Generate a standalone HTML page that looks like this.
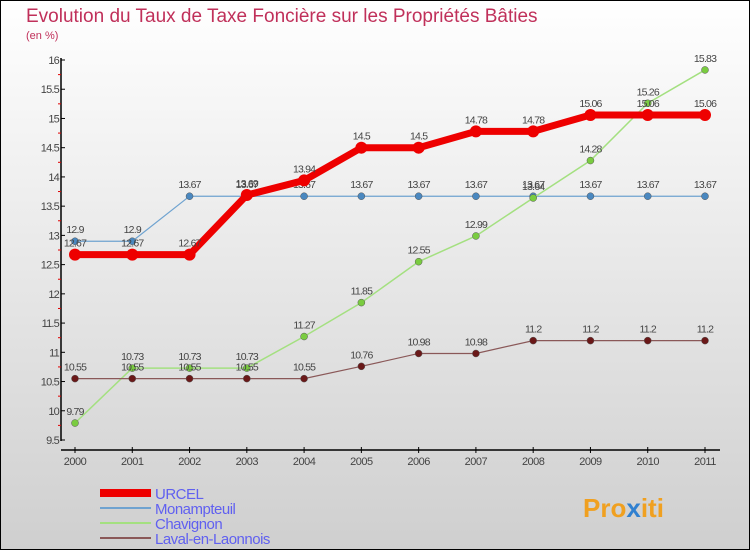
<!DOCTYPE html>
<html><head><meta charset="utf-8"><style>
body{margin:0;}
#c{width:750px;height:550px;position:relative;font-family:"Liberation Sans",sans-serif;}
</style></head><body>
<div id="c">
<svg id="s" width="750" height="550" xmlns="http://www.w3.org/2000/svg">
<defs><linearGradient id="bg" x1="0" y1="0" x2="0" y2="1"><stop offset="0" stop-color="#ffffff"/><stop offset="1" stop-color="#cfcfcf"/></linearGradient></defs>
<rect x="0.5" y="0.5" width="749" height="549" fill="url(#bg)" stroke="#000"/>
<text x="26" y="22" font-size="19" fill="#c0305a">Evolution du Taux de Taxe Foncière sur les Propriétés Bâties</text>
<text x="26" y="39" font-size="11" fill="#c0305a">(en %)</text>
<g id="axes"></g><g id="series"></g><g id="legend"></g>
<text x="583" y="517" font-size="26" font-weight="bold" fill="#f0a020">Pro<tspan fill="#3080d0">x</tspan>iti</text>
</svg></div>
<script>
const years=[2000,2001,2002,2003,2004,2005,2006,2007,2008,2009,2010,2011];
const yTicks=[9.5,10,10.5,11,11.5,12,12.5,13,13.5,14,14.5,15,15.5,16];
const urcel=[12.67,12.67,12.67,13.69,13.94,14.5,14.5,14.78,14.78,15.06,15.06,15.06];
const monampteuil=[12.9,12.9,13.67,13.67,13.67,13.67,13.67,13.67,13.67,13.67,13.67,13.67];
const chavignon=[9.79,10.73,10.73,10.73,11.27,11.85,12.55,12.99,13.64,14.28,15.26,15.83];
const laval=[10.55,10.55,10.55,10.55,10.55,10.76,10.98,10.98,11.2,11.2,11.2,11.2];
const seriesNames=["URCEL","Monampteuil","Chavignon","Laval-en-Laonnois"];
const NS="http://www.w3.org/2000/svg";
const X=i=>75+i*(705-75)/11;
const Y=v=>440-(v-9.5)*(380/6.5);
function mk(t,a,p,txt){const e=document.createElementNS(NS,t);for(const k in a)e.setAttribute(k,a[k]);if(txt!==undefined)e.textContent=txt;p.appendChild(e);return e;}
const ax=document.getElementById('axes');
let e=mk('line',{x1:61,y1:58,x2:61,y2:441,stroke:'#000','stroke-width':1.5},ax);


e=mk('line',{x1:61,y1:450,x2:720,y2:450,stroke:'#000','stroke-width':1.5},ax);


yTicks.forEach((v,i)=>{
  mk('line',{x1:61,y1:Y(v),x2:65,y2:Y(v),stroke:'#000'},ax);
  if(i<yTicks.length-1)mk('line',{x1:58,y1:Y(v+0.25),x2:61,y2:Y(v+0.25),stroke:'#e00000'},ax);
  const t=mk('text',{x:59,y:Y(v)+4,'text-anchor':'end','font-size':11,fill:'#444','letter-spacing':'-0.8'},ax,String(v));
  
  
});
years.forEach((y,i)=>{
  mk('line',{x1:X(i),y1:447,x2:X(i),y2:453,stroke:'#000'},ax);
  const t=mk('text',{x:X(i),y:465,'text-anchor':'middle','font-size':11,fill:'#444','letter-spacing':'-0.5'},ax,String(y));
  
  
});
const sg=document.getElementById('series');
const specs=[[monampteuil,'#6fa3d0',1.2,3.5,'#4a88c0'],[chavignon,'#a4e080',1.5,3.5,'#7acc40'],[laval,'#8a5858',1.2,3.5,'#6a1818'],[urcel,'#ee0000',7,6,'#ee0000']];
const names=['monampteuil','chavignon','laval-en-laonnois','urcel'];
specs.forEach((s,k)=>{
  const g=mk('g',{},sg);
  
  
  const l=mk('polyline',{points:s[0].map((v,i)=>X(i)+','+Y(v)).join(' '),fill:'none',stroke:s[1],'stroke-width':s[2]},g);
  
  
  s[0].forEach((v,i)=>{
    const c=mk('circle',{cx:X(i),cy:Y(v),r:s[3],fill:s[4],stroke:k==3?'none':'#555','stroke-width':0.5},g);
    
    
    const t=mk('text',{x:X(i),y:Y(v)-8,'text-anchor':'middle','font-size':10.5,fill:'#444','letter-spacing':'-0.8'},g,String(v));
    
    
  });
});
const lg=document.getElementById('legend');
const lc=['#ee0000','#6fa3d0','#a4e080','#8a5858'],lw=[8,2,2,2];
seriesNames.forEach((n,i)=>{
  const y=493+i*15;
  const l=mk('line',{x1:100,y1:y,x2:151,y2:y,stroke:lc[i],'stroke-width':lw[i]},lg);
  
  
  const t=mk('text',{x:155,y:y+6,'font-size':15,fill:'#6060f0','letter-spacing':'-0.5'},lg,n);
  
  
});
</script>
</body></html>
